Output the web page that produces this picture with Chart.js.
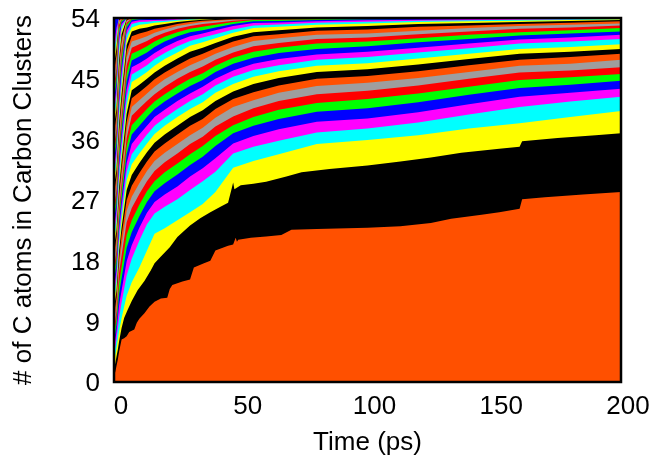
<!DOCTYPE html>
<html>
<head>
<meta charset="utf-8">
<script src="https://cdn.jsdelivr.net/npm/chart.js@4.4.1/dist/chart.umd.min.js"></script>
<style>
  html, body { margin: 0; padding: 0; background: #fff; }
  #wrap { width: 651px; height: 460px; }
</style>
</head>
<body>
<div id="wrap"><canvas id="chart" width="651" height="460"></canvas></div>
<script>
// Cumulative atom counts (stacked, sorted by cluster size), 54 C atoms in total.
// Largest cluster: own time points, since it moves in steps
const largestTimes = [0, 0.5, 1, 1.5, 2, 3, 4, 5, 6, 8, 9, 10, 12, 14, 16, 18.5, 21, 22, 23, 27,
  30, 31.5, 35.5, 38, 40, 45, 47, 48, 48.5, 49, 54, 60, 66, 70, 80, 100, 113, 125, 133, 145,
  152, 160, 161, 170, 185, 200];
const largestCluster = [1, 1.5, 2.4, 3.3, 4.5, 6.3, 6.5, 6.8, 7.4, 7.8, 8.8, 9.4, 10.2, 11.2, 11.9, 12.4, 12.5, 13.8, 14.4, 14.9,
  15.2, 17.0, 17.6, 18.0, 19.5, 20.2, 20.4, 21.4, 20.8, 21.1, 21.4, 21.6, 21.8, 22.6, 22.7, 22.9, 23.1, 23.6, 24.2, 24.8,
  25.2, 25.7, 27.1, 27.4, 27.8, 28.2];

// Top of the 2nd largest cluster
const secondTimes = [0, 0.5, 1, 1.5, 2, 3, 4, 5.4, 7, 9.3, 12, 14.6, 16, 18.5, 22, 25, 27.6, 30, 34, 38,
  42, 45, 46.5, 47, 47.5, 50, 55, 60, 68, 74, 85, 100, 113, 125, 137, 152, 160, 161, 175, 190, 200];
const secondCluster = [2, 2.8, 3.8, 4.8, 6, 8, 9.5, 10.7, 12, 13.6, 15, 16.6, 17.6, 18.6, 20, 21.5, 22.4, 23.2, 24.3, 25.2,
  26, 26.6, 28.8, 29.6, 28.6, 29.2, 29.4, 29.7, 30.5, 31.1, 31.6, 32.1, 32.7, 33.3, 34, 34.6, 34.9, 35.7, 36.2, 36.6, 36.9];

// Next layers share one time grid (ps)
const timeGrid = [0, 1, 2, 3, 5, 7, 10, 13, 16, 20, 25, 30, 35, 40, 47, 55, 65, 80, 100, 120, 140, 160, 180, 200];
const level03 = [3, 5.0, 7.5, 9.5, 12.8, 14.8, 17.0, 19.5, 22.0, 22.8, 24.0, 25.2, 26.4, 28.2, 31.8, 32.8, 33.8, 35.3, 35.9, 36.6, 37.6, 38.4, 39.3, 40.2];
const level04 = [4, 6.3, 9.5, 11.8, 15.8, 18.3, 21.0, 23.4, 25.0, 26.0, 27.1, 28.5, 29.8, 31.2, 33.9, 34.9, 35.8, 37.0, 37.6, 38.5, 39.7, 40.8, 41.6, 42.3];
const level05 = [5, 7.5, 11.3, 13.6, 17.9, 20.3, 22.9, 25.1, 26.7, 27.8, 29.0, 30.5, 31.7, 33.2, 35.4, 36.5, 37.5, 38.6, 39.1, 40.0, 41.2, 42.3, 42.9, 43.5];
const level06 = [6, 8.5, 13.0, 15.4, 19.9, 22.2, 24.6, 26.7, 28.3, 29.5, 30.8, 32.2, 33.4, 35.0, 36.9, 38.0, 39.0, 40.1, 40.6, 41.5, 42.6, 43.6, 44.1, 44.7];
const level07 = [7, 9.5, 14.6, 17.1, 21.8, 24.0, 26.3, 28.3, 29.8, 31.1, 32.4, 33.8, 35.0, 36.5, 38.1, 39.3, 40.4, 41.4, 42.0, 42.8, 43.8, 44.8, 45.2, 45.7];
const level08 = [8, 10.5, 16.2, 18.8, 23.7, 25.8, 27.9, 29.8, 31.3, 32.6, 33.9, 35.3, 36.4, 37.9, 39.4, 40.6, 41.7, 42.7, 43.2, 44.0, 45.0, 45.9, 46.2, 46.7];
const level09 = [9, 11.5, 17.25, 20.3, 25.4, 27.5, 29.5, 31.3, 32.8, 34.0, 35.3, 36.6, 37.7, 39.2, 40.8, 41.8, 42.9, 43.9, 44.4, 45.1, 46.0, 46.9, 47.2, 47.8];
const level10 = [10, 12.5, 18.3, 21.8, 27.0, 29.1, 31.0, 32.7, 34.2, 35.4, 36.7, 38.0, 39.0, 40.5, 42.0, 43.0, 44.0, 45.0, 45.4, 46.1, 47.0, 47.8, 48.2, 48.7];
const level11 = [11, 13.5, 19.35, 22.9, 28.5, 30.7, 32.5, 34.1, 35.5, 36.7, 38.0, 39.3, 40.3, 41.7, 43.1, 44.2, 45.1, 46.0, 46.4, 47.1, 47.9, 48.7, 49.0, 49.4];
const level12 = [12, 14.5, 20.4, 24.0, 29.9, 32.3, 33.9, 35.4, 36.8, 38.0, 39.3, 40.5, 41.5, 42.9, 44.2, 45.3, 46.1, 46.9, 47.3, 48.0, 48.7, 49.4, 49.7, 50.1];
const level13 = [13, 15.5, 21.45, 25.1, 31.2, 33.8, 35.3, 36.7, 38.0, 39.2, 40.5, 41.7, 42.7, 44.0, 45.3, 46.3, 47.0, 47.8, 48.2, 48.9, 49.5, 50.2, 50.5, 50.9];
const level14 = [14, 16.5, 22.5, 26.2, 32.5, 35.3, 36.7, 38.0, 39.3, 40.4, 41.7, 42.8, 43.8, 45.0, 46.2, 47.2, 47.9, 48.6, 49.0, 49.6, 50.2, 50.8, 51.1, 51.5];
const level15 = [15, 17.5, 23.55, 27.3, 33.8, 36.7, 38.0, 39.3, 40.5, 41.6, 42.8, 43.9, 44.8, 46.0, 47.2, 48.1, 48.8, 49.4, 49.8, 50.4, 50.9, 51.4, 51.7, 52.0];
const level16 = [16, 18.5, 24.6, 28.4, 35.0, 38.1, 39.3, 40.5, 41.6, 42.7, 43.9, 45.0, 45.8, 46.9, 48.1, 49.0, 49.6, 50.2, 50.5, 51.0, 51.5, 51.9, 52.2, 52.5];
const level17 = [17, 19.5, 25.65, 29.5, 36.2, 39.5, 40.6, 41.7, 42.7, 43.8, 45.0, 46.0, 46.8, 47.8, 48.9, 49.8, 50.3, 50.9, 51.1, 51.6, 52.0, 52.4, 52.6, 52.9];
const level18 = [18, 20.5, 26.7, 30.6, 37.4, 40.8, 41.8, 42.8, 43.8, 44.9, 46.0, 47.0, 47.8, 48.7, 49.7, 50.6, 51.0, 51.5, 51.7, 52.1, 52.5, 52.8, 53.0, 53.2];
const level19 = [19, 21.5, 27.75, 31.7, 38.6, 42.1, 43.0, 43.9, 44.9, 45.9, 47.0, 48.0, 48.7, 49.5, 50.5, 51.3, 51.6, 52.1, 52.3, 52.7, 52.9, 53.1, 53.3, 53.5];
const level20 = [20, 22.5, 28.8, 32.8, 39.8, 43.3, 44.1, 45.0, 45.9, 46.9, 48.0, 49.0, 49.6, 50.3, 51.2, 51.9, 52.2, 52.6, 52.8, 53.1, 53.25, 53.4, 53.55, 53.7];
const level21 = [21, 23.5, 29.85, 33.9, 41.0, 44.5, 45.2, 46.0, 46.9, 47.9, 48.9, 49.9, 50.4, 51.0, 51.8, 52.5, 52.7, 53.0, 53.2, 53.4, 53.5, 53.6, 53.7, 53.82];
const level22 = [22, 24.5, 30.9, 35.0, 42.2, 45.6, 46.3, 47.0, 47.9, 48.8, 49.8, 50.6, 51.1, 51.6, 52.3, 52.9, 53.05, 53.3, 53.45, 53.6, 53.65, 53.75, 53.82, 53.9];
const level23 = [23, 25.5, 31.95, 36.1, 43.4, 46.7, 47.3, 48.0, 48.8, 49.7, 50.6, 51.3, 51.7, 52.2, 52.8, 53.25, 53.35, 53.5, 53.65, 53.75, 53.8, 53.85, 53.9, 53.95];
const level24 = [24, 26.5, 33.0, 37.2, 44.6, 47.7, 48.3, 48.9, 49.7, 50.5, 51.3, 51.9, 52.2, 52.6, 53.1, 53.5, 53.55, 53.7, 53.8, 53.85, 53.9, 53.92, 53.95, 53.98];
const level25 = [25, 27.5, 34.05, 38.3, 45.8, 48.7, 49.2, 49.8, 50.5, 51.2, 51.9, 52.4, 52.7, 53.0, 53.4, 53.7, 53.75, 53.8, 53.88, 53.92, 53.95, 53.96, 53.97, 54];
const level26 = [26, 28.5, 35.1, 39.4, 47.0, 49.6, 50.1, 50.6, 51.2, 51.8, 52.4, 52.8, 53.1, 53.3, 53.6, 53.82, 53.85, 53.88, 53.92, 53.95, 53.97, 53.98, 54, 54];
const level27 = [27, 29.5, 36.15, 40.5, 48.1, 50.5, 50.9, 51.3, 51.8, 52.3, 52.8, 53.1, 53.4, 53.55, 53.75, 53.9, 53.92, 53.94, 53.96, 53.98, 54, 54, 54, 54];
const level28 = [28, 30.5, 37.2, 41.6, 49.1, 51.3, 51.7, 52.0, 52.4, 52.7, 53.1, 53.4, 53.6, 53.7, 53.85, 53.95, 53.96, 53.97, 53.98, 54, 54, 54, 54, 54];
const level29 = [29, 31.5, 38.25, 42.7, 50.0, 52.0, 52.4, 52.6, 52.9, 53.1, 53.4, 53.6, 53.75, 53.85, 53.97, 53.97, 53.98, 53.98, 54, 54, 54, 54, 54, 54];
const level30 = [30, 32.5, 39.3, 43.8, 50.8, 52.6, 53.0, 53.1, 53.3, 53.4, 53.6, 53.75, 53.85, 53.92, 53.98, 53.98, 54, 54, 54, 54, 54, 54, 54, 54];
const level31 = [31, 33.5, 40.35, 44.9, 51.5, 53.1, 53.4, 53.45, 53.55, 53.6, 53.75, 53.85, 53.92, 53.96, 54, 54, 54, 54, 54, 54, 54, 54, 54, 54];
const level32 = [32, 34.5, 41.4, 46.0, 52.1, 53.45, 53.65, 53.7, 53.72, 53.75, 53.85, 53.92, 53.96, 54, 54, 54, 54, 54, 54, 54, 54, 54, 54, 54];
const level33 = [33, 35.5, 42.45, 47.1, 52.6, 53.7, 53.8, 53.85, 53.86, 53.88, 53.92, 53.96, 54, 54, 54, 54, 54, 54, 54, 54, 54, 54, 54, 54];
const level34 = [34, 36.5, 43.5, 48.2, 53.0, 53.85, 53.9, 53.93, 53.94, 53.95, 53.97, 54, 54, 54, 54, 54, 54, 54, 54, 54, 54, 54, 54, 54];
const level35 = [35, 37.5, 44.55, 49.2, 53.3, 53.93, 53.95, 54, 54, 54, 54, 54, 54, 54, 54, 54, 54, 54, 54, 54, 54, 54, 54, 54];
const level36 = [36, 38.5, 45.6, 50.1, 53.55, 53.97, 54, 54, 54, 54, 54, 54, 54, 54, 54, 54, 54, 54, 54, 54, 54, 54, 54, 54];

// Highest layers: only the first picoseconds, they are full (54) after that
const earlyGrid = [0, 1, 2, 3, 5, 7, 200];
const level37 = [37, 39.5, 46.65, 50.9, 53.72, 54, 54];
const level38 = [38, 40.5, 47.7, 51.6, 53.84, 54, 54];
const level39 = [39, 41.5, 48.75, 52.2, 53.92, 54, 54];
const level40 = [40, 42.5, 49.8, 52.7, 53.96, 54, 54];
const level41 = [41, 43.5, 50.8, 53.1, 53.98, 54, 54];
const level42 = [42, 44.5, 51.7, 53.4, 54, 54, 54];
const level43 = [43, 45.5, 52.4, 53.65, 54, 54, 54];
const level44 = [44, 46.5, 53.0, 53.8, 54, 54, 54];
const level45 = [45, 47.5, 53.4, 53.9, 54, 54, 54];
const level46 = [46, 48.5, 53.7, 53.95, 54, 54, 54];
const level47 = [47, 49.5, 53.85, 53.98, 54, 54, 54];
const level48 = [48, 50.5, 53.93, 54, 54, 54, 54];
const level49 = [49, 51.5, 53.97, 54, 54, 54, 54];
const level50 = [50, 52.5, 54, 54, 54, 54, 54];
const totalAtoms = 54;

const xTicks = [0, 50, 100, 150, 200];
const yTicks = [0, 9, 18, 27, 36, 45, 54];

// colour cycle of the layers, from the bottom up
const layerColors = ['#FF5000', '#000000', '#FFFF00', '#00FFFF', '#FF00FF', '#0000FF', '#00FF00', '#FF0000', '#9E9E9E'];

const toPoints = (xs, ys) => xs.map((x, i) => ({ x, y: ys[i] }));

const gridLevels = [level03, level04, level05, level06, level07, level08, level09, level10, level11, level12,
  level13, level14, level15, level16, level17, level18, level19, level20, level21, level22, level23, level24,
  level25, level26, level27, level28, level29, level30, level31, level32, level33, level34, level35, level36];
const earlyLevels = [level37, level38, level39, level40, level41, level42, level43, level44, level45, level46,
  level47, level48, level49, level50];

const boundaries = [
  toPoints(largestTimes, largestCluster),
  toPoints(secondTimes, secondCluster),
  ...gridLevels.map(lv => toPoints(timeGrid, lv)),
  ...earlyLevels.map(lv => toPoints(earlyGrid, lv)),
  toPoints([timeGrid[0], timeGrid[timeGrid.length - 1]], [totalAtoms, totalAtoms])
];

// every boundary fills down to 0; the first dataset is drawn last, so lower layers cover upper ones
const datasets = boundaries.map((pts, i) => ({
  data: pts,
  fill: 'origin',
  backgroundColor: layerColors[i % layerColors.length],
  borderColor: 'rgba(0,0,0,0)',
  borderWidth: 0,
  pointRadius: 0,
  tension: 0
}));

const framePlugin = {
  id: 'frame',
  afterDatasetsDraw(chart) {
    const { ctx, chartArea: a } = chart;
    ctx.save();
    ctx.strokeStyle = '#000';
    ctx.lineWidth = 2.5;
    ctx.strokeRect(a.left, a.top, a.right - a.left, a.bottom - a.top);
    ctx.restore();
  }
};

Chart.defaults.font.family = "'Liberation Sans', Arial, sans-serif";
Chart.defaults.color = '#000';

new Chart(document.getElementById('chart'), {
  type: 'line',
  data: { datasets },
  options: {
    responsive: false,
    animation: false,
    devicePixelRatio: 1,
    layout: { padding: { top: 18, right: 30, left: 0, bottom: 0 } },
    plugins: {
      legend: { display: false },
      tooltip: { enabled: false }
    },
    scales: {
      x: {
        type: 'linear',
        min: xTicks[0],
        max: xTicks[xTicks.length - 1],
        afterBuildTicks: s => { s.ticks = xTicks.map(v => ({ value: v })); },
        afterFit: s => { s.height = 78; s.paddingLeft = 0; s.paddingRight = 0; },
        grid: { display: false, drawTicks: false },
        border: { display: false },
        ticks: { font: { size: 26 }, padding: 9, labelOffset: 7, maxRotation: 0 },
        title: { display: true, text: 'Time (ps)', font: { size: 26 }, padding: { top: 0, bottom: 2 } }
      },
      y: {
        min: yTicks[0],
        max: yTicks[yTicks.length - 1],
        afterBuildTicks: s => { s.ticks = yTicks.map(v => ({ value: v })); },
        afterFit: s => { s.width = 114; s.paddingTop = 0; s.paddingBottom = 0; },
        grid: { display: false, drawTicks: false },
        border: { display: false },
        ticks: { font: { size: 26 }, padding: 14, labelOffset: 2 },
        title: { display: true, text: '# of C atoms in Carbon Clusters', font: { size: 26 }, padding: { top: 8, bottom: 0 } }
      }
    }
  },
  plugins: [framePlugin]
});
</script>
</body>
</html>
